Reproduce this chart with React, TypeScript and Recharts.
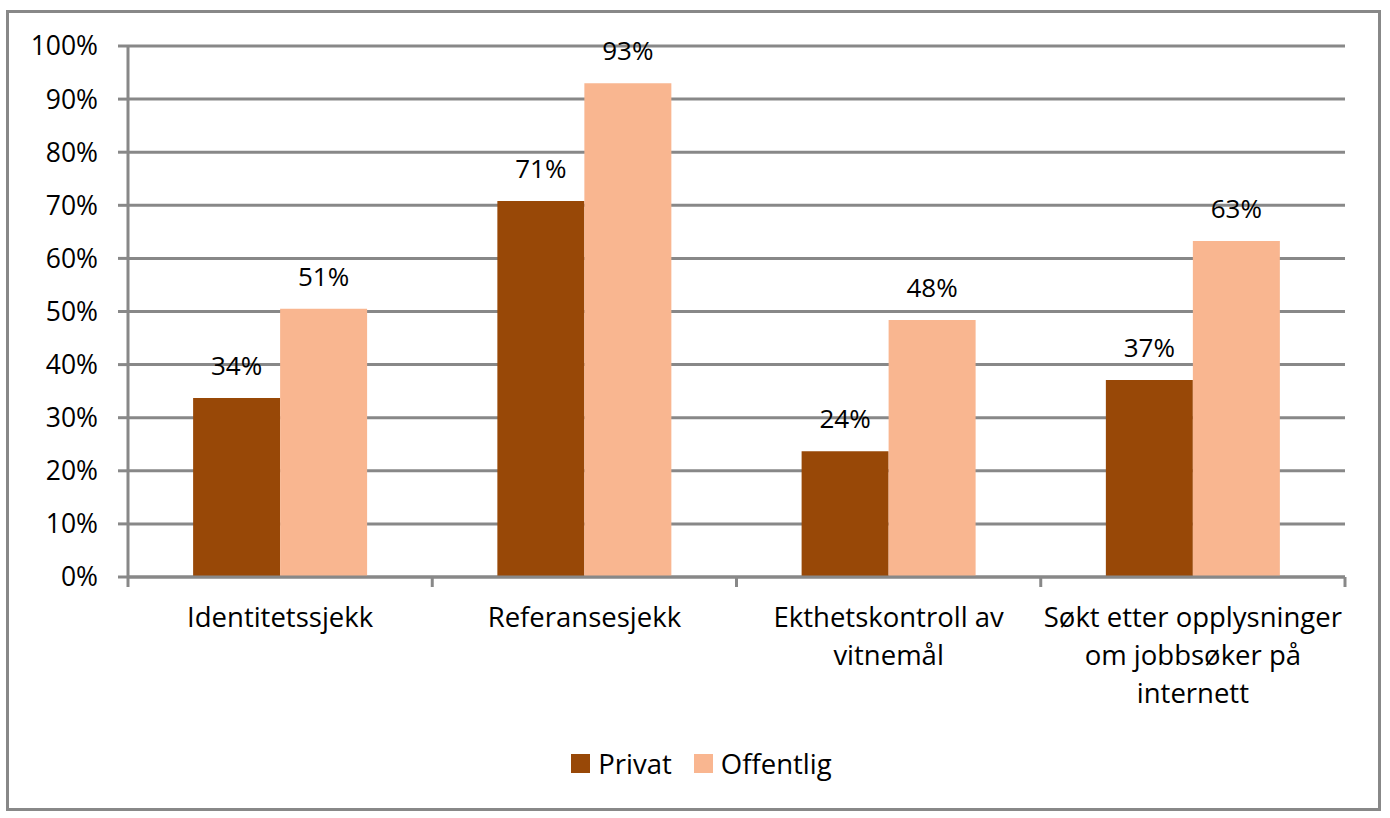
import React from "react";
import { BarChart, Bar, XAxis, YAxis, CartesianGrid, Legend, LabelList } from "recharts";

const categories = [
  "Identitetssjekk",
  "Referansesjekk",
  "Ekthetskontroll av vitnemål",
  "Søkt etter opplysninger om jobbsøker på internett",
];
const tickLines = [
  ["Identitetssjekk"],
  ["Referansesjekk"],
  ["Ekthetskontroll av", "vitnemål"],
  ["Søkt etter opplysninger", "om jobbsøker på", "internett"],
];
const seriesNames = ["Privat", "Offentlig"];
const privat = [33.7, 70.8, 23.7, 37.1];
const offentlig = [50.5, 93.0, 48.4, 63.3];
const yTicks = [0, 10, 20, 30, 40, 50, 60, 70, 80, 90, 100];

const FONT = "'Open Sans', 'Noto Sans', sans-serif";
const FS_Y = 26.5;
const FS_X = 27.5;
const FS_L = 26;
const GRID = "#888888";
const C_PRIVAT = "#984807";
const C_OFF = "#F9B690";

const data = categories.map((c, i) => ({
  name: c,
  Privat: privat[i],
  Offentlig: offentlig[i],
}));

const XTick = (props: any) => {
  const { x, y, payload, index, visibleTicksCount } = props;
  const half = payload.offset || 0;
  const lines = tickLines[index] || [String(payload.value)];
  const last = index === (visibleTicksCount ?? categories.length) - 1;
  return (
    <g>
      <line x1={x - half} x2={x - half} y1={y} y2={y + 10} stroke={GRID} strokeWidth={3} />
      {last && <line x1={x + half} x2={x + half} y1={y} y2={y + 10} stroke={GRID} strokeWidth={3} />}
      {lines.map((l: string, k: number) => (
        <text key={k} x={x} y={y + 50 + k * 38} textAnchor="middle" fill="#000" fontFamily={FONT} fontSize={FS_X}>
          {l}
        </text>
      ))}
    </g>
  );
};

const LegendContent = (props: any) => {
  const items = [...(props.payload || [])].sort(
    (a: any, b: any) => seriesNames.indexOf(a.value) - seriesNames.indexOf(b.value)
  );
  return (
    <div style={{ display: "flex", justifyContent: "center", alignItems: "center", height: 30, fontFamily: FONT, fontSize: FS_X, color: "#000", paddingLeft: 58 }}>
      {items.map((it: any, i: number) => (
        <div key={i} style={{ display: "flex", alignItems: "center", marginLeft: i ? 22 : 0 }}>
          <span style={{ width: 19, height: 19, background: it.color, marginRight: 8, display: "inline-block" }} />
          <span>{it.value}</span>
        </div>
      ))}
    </div>
  );
};

const pct = (v: any) => `${Math.round(Number(v))}%`;

export default function App() {
  return (
    <div style={{ position: "absolute", left: 0, top: 0, width: 1390, height: 818, background: "#fff" }}>
      <div style={{ position: "absolute", left: 6, top: 10, width: 1369, height: 795, border: `3px solid ${GRID}` }} />
      <BarChart
        width={1390}
        height={818}
        data={data}
        margin={{ top: 46, right: 45, left: 0, bottom: 40 }}
        barCategoryGap="21.4%"
        barGap={0}
      >
        <CartesianGrid vertical={false} stroke={GRID} strokeWidth={3} />
        <XAxis
          dataKey="name"
          height={171}
          tickSize={0}
          tickMargin={0}
          tickLine={false}
          axisLine={{ stroke: GRID, strokeWidth: 3 }}
          tick={<XTick />}
          interval={0}
        />
        <YAxis
          width={128}
          domain={[0, 100]}
          ticks={yTicks}
          tickFormatter={(v: number) => `${v}%`}
          tickSize={10}
          tickMargin={20}
          tickLine={{ stroke: GRID, strokeWidth: 3 }}
          axisLine={{ stroke: GRID, strokeWidth: 3 }}
          tick={{ fill: "#000", fontFamily: FONT, fontSize: FS_Y }}
          interval={0}
        />
        <Legend verticalAlign="bottom" content={<LegendContent />} />
        {seriesNames.map((s, i) => (
          <Bar key={s} dataKey={s} fill={i === 0 ? C_PRIVAT : C_OFF} isAnimationActive={false}>
            <LabelList dataKey={s} position="top" offset={23} formatter={pct} fill="#000" fontFamily={FONT} fontSize={FS_L} />
          </Bar>
        ))}
      </BarChart>
    </div>
  );
}
